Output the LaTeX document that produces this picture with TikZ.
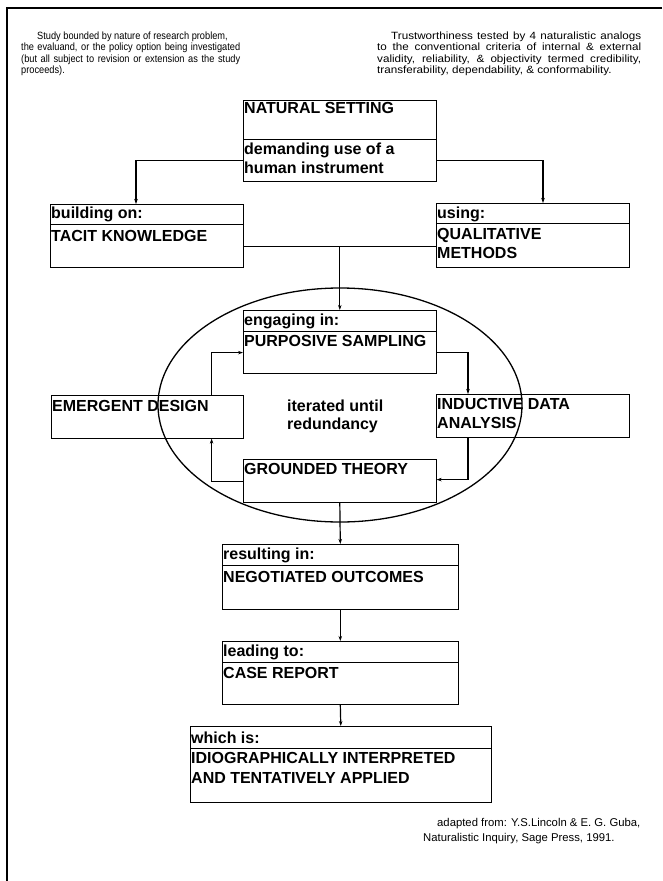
\documentclass[tikz,border=0pt]{standalone}
\usepackage{fontspec}
\setmainfont{Liberation Sans}
\newfontfamily\hdleft[FakeStretch=0.88]{Liberation Sans}
\newfontfamily\hdright[FakeStretch=1.11]{Liberation Sans}
\usetikzlibrary{arrows.meta,shapes.geometric}
\begin{document}
\begin{tikzpicture}[x=1pt,y=-1pt,
  box/.style={draw, line width=0.6pt, rectangle, inner sep=0pt, anchor=north west},
  lbl/.style={anchor=base west, inner sep=0pt, font=\bfseries\fontsize{16}{19}\selectfont},
  conn/.style={line width=1.2pt, -{Stealth[length=5pt,width=3.5pt]}},
  plainline/.style={line width=1.2pt},
  divl/.style={line width=0.6pt},
  hdtext/.style={anchor=north west, inner sep=0pt, align=justify}]
\useasboundingbox (0,0) rectangle (662,881);
\draw[line width=1.6pt] (662,8) -- (7,8) -- (7,881);

% header texts
\node[hdtext, text width=219pt, font=\hdleft\fontsize{10.5}{11.6}\selectfont] (hl) at (21,31.3)
 {\hspace*{16pt}Study bounded by nature of research problem,\newline the evaluand, or the policy option being investigated\linebreak (but all subject to revision or extension as the study\linebreak proceeds).};
\node[hdtext, text width=264pt, font=\hdright\fontsize{10.5}{11.6}\selectfont] (hr) at (377,31.3)
 {\hspace*{14pt}Trustworthiness tested by 4 naturalistic analogs\linebreak to the conventional criteria of internal \& external\linebreak validity, reliability, \& objectivity termed credibility,\linebreak transferability, dependability, \& conformability.};

% boxes
\node[box, minimum width=193pt, minimum height=81pt] (nat) at (243,100) {};
\draw[divl] ([yshift=-39pt]nat.north west) -- ([yshift=-39pt]nat.north east);
\node[lbl] (natA) at (244,113) {NATURAL SETTING};
\node[lbl] (natB) at (244,154) {demanding use of a};
\node[lbl] (natC) at (244,173) {human instrument};

\node[box, minimum width=193pt, minimum height=63pt] (tacit) at (50,204) {};
\draw[divl] ([yshift=-20pt]tacit.north west) -- ([yshift=-20pt]tacit.north east);
\node[lbl] (tacA) at (51,218) {building on:};
\node[lbl] (tacB) at (51,241) {TACIT KNOWLEDGE};

\node[box, minimum width=193pt, minimum height=64pt] (using) at (436,203) {};
\draw[divl] ([yshift=-20pt]using.north west) -- ([yshift=-20pt]using.north east);
\node[lbl] (useA) at (437,218) {using:};
\node[lbl] (useB) at (437,239) {QUALITATIVE};
\node[lbl] (useC) at (437,258) {METHODS};

\node[box, minimum width=193pt, minimum height=63pt] (purp) at (243,310) {};
\draw[divl] ([yshift=-21pt]purp.north west) -- ([yshift=-21pt]purp.north east);
\node[lbl] (purA) at (244,325) {engaging in:};
\node[lbl] (purB) at (244,346) {PURPOSIVE SAMPLING};

\node[box, minimum width=192pt, minimum height=43pt] (emer) at (51,395) {};
\node[lbl] (emA) at (52,411) {EMERGENT DESIGN};

\node[box, minimum width=193pt, minimum height=43pt] (induc) at (436,394) {};
\node[lbl] (inA) at (437,409) {INDUCTIVE DATA};
\node[lbl] (inB) at (437,428) {ANALYSIS};

\node[lbl] (itA) at (287,411) {iterated until};
\node[lbl] (itB) at (287,429) {redundancy};

\node[box, minimum width=193pt, minimum height=43pt] (ground) at (243,459) {};
\node[lbl] (grA) at (244,474) {GROUNDED THEORY};

\node[draw, ellipse, line width=1.3pt, minimum width=364pt, minimum height=234pt, inner sep=0pt] (loop) at (340,405) {};

\node[box, minimum width=236pt, minimum height=65pt] (nego) at (222,544) {};
\draw[divl] ([yshift=-21pt]nego.north west) -- ([yshift=-21pt]nego.north east);
\node[lbl] (neA) at (223,559) {resulting in:};
\node[lbl] (neB) at (223,582) {NEGOTIATED OUTCOMES};

\node[box, minimum width=236pt, minimum height=63pt] (case) at (222,641) {};
\draw[divl] ([yshift=-21pt]case.north west) -- ([yshift=-21pt]case.north east);
\node[lbl] (caA) at (223,656) {leading to:};
\node[lbl] (caB) at (223,678) {CASE REPORT};

\node[box, minimum width=301pt, minimum height=76pt] (which) at (190,726) {};
\draw[divl] ([yshift=-22pt]which.north west) -- ([yshift=-22pt]which.north east);
\node[lbl] (whA) at (191,743) {which is:};
\node[lbl] (whB) at (191,763) {IDIOGRAPHICALLY INTERPRETED};
\node[lbl] (whC) at (191,783) {AND TENTATIVELY APPLIED};

% footer
\node[anchor=base west, inner sep=0pt, font=\fontsize{11.3}{15}\selectfont] (ft1) at (437,826) {adapted from: Y.S.Lincoln \& E. G. Guba,};
\node[anchor=base west, inner sep=0pt, font=\fontsize{11.3}{15}\selectfont] (ft2) at (423,841) {Naturalistic Inquiry, Sage Press, 1991.};

% connectors
\draw[conn] ([yshift=21pt]nat.south west) -| ([xshift=86pt]tacit.north west);
\draw[conn] ([yshift=21pt]nat.south east) -| ([xshift=107pt]using.north west);
\coordinate (j1) at ([yshift=21pt]tacit.south east);
\draw[plainline] (j1) -- ([yshift=21pt]using.south west);
\draw[conn] (j1 -| purp.north) -- (purp.north);
\draw[conn] ([xshift=-32pt]emer.north east) |- ([yshift=21pt]purp.south west);
\draw[conn] ([yshift=21pt]purp.south east) -| ([xshift=32pt]induc.north west);
\draw[conn] ([xshift=32pt]induc.south west) |- ([yshift=23pt]ground.south east);
\draw[conn] ([yshift=21pt]ground.south west) -| ([xshift=-32pt]emer.south east);
\draw[conn] (ground.south) -- (nego.north);
\draw[conn] (nego.south) -- (case.north);
\draw[conn] (case.south) -- (which.north);
\end{tikzpicture}
\end{document}
